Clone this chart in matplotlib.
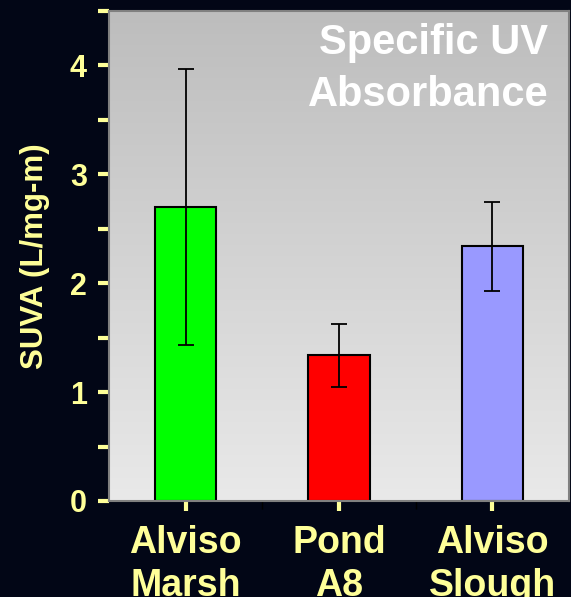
import numpy as np
import matplotlib.pyplot as plt
from matplotlib.ticker import MultipleLocator

sites = ["Alviso\nMarsh", "Pond\nA8", "Alviso\nSlough"]
suva = [2.70, 1.34, 2.34]
suvaErr = [1.27, 0.29, 0.41]
barColors = ["#00ff00", "#ff0000", "#9999ff"]

navy = "#020616"
pale = "#ffff99"

plt.rcParams['font.family'] = ['Liberation Sans', 'DejaVu Sans']
plt.rcParams['font.weight'] = 'bold'

fig = plt.figure(figsize=(5.71, 5.97), dpi=100, facecolor=navy)
ax = fig.add_axes([109/571, 1 - 501/597, 460/571, 490/597])

x = np.arange(len(sites))
ax.set_xlim(-0.5, len(sites) - 0.5)
ax.set_ylim(0, 4.5)

# grey gradient behind the bars, darker at the top
grad = np.linspace(0, 1, 256).reshape(-1, 1)
ax.imshow(grad, cmap=plt.matplotlib.colors.LinearSegmentedColormap.from_list(
    "bg", ["#e9e9e9", "#bdbdbd"]), aspect='auto',
    extent=[-0.5, len(sites) - 0.5, 0, 4.5], origin='lower', zorder=0)

ax.bar(x, suva, width=0.4, color=barColors, edgecolor='black', linewidth=1.5,
       zorder=2)
ax.errorbar(x, suva, yerr=suvaErr, fmt='none', ecolor='black', elinewidth=1.3,
            capsize=6, capthick=1.3, zorder=3)

for side in ['left', 'bottom', 'top', 'right']:
    ax.spines[side].set_color('#808080')
    ax.spines[side].set_linewidth(1.5)

ax.yaxis.set_major_locator(MultipleLocator(1))
ax.yaxis.set_minor_locator(MultipleLocator(0.5))
ax.tick_params(axis='y', which='both', direction='out', length=8, width=3,
               color=pale, labelcolor=pale, labelsize=22, pad=8)
ax.set_xticks(x)
ax.set_xticklabels(sites, linespacing=1.28)
ax.set_xticks([0.5, 1.5], minor=True)
ax.tick_params(axis='x', which='major', direction='out', length=7, width=3,
               color=pale, labelcolor=pale, labelsize=27, pad=10)
ax.tick_params(axis='x', which='minor', direction='out', length=6, width=1,
               color='black')

ax.set_ylabel("SUVA (L/mg-m)", color=pale, fontsize=22.5, fontweight='bold',
              labelpad=14)

ax.text(0.955, 0.975, "Specific UV\nAbsorbance", transform=ax.transAxes,
        ha='right', va='top', color='white', fontsize=30, fontweight='bold',
        linespacing=1.37, zorder=4)

fig.savefig("out.png", dpi=100, facecolor=navy)
